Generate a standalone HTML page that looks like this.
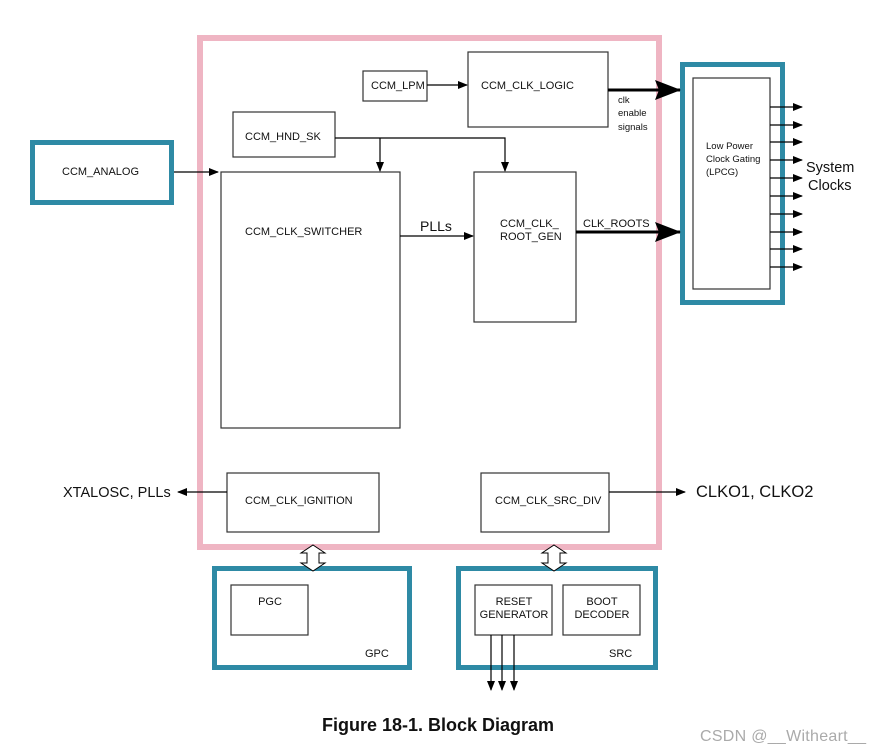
<!DOCTYPE html>
<html><head><style>body{margin:0;background:#fff}svg{display:block}text{font-family:"Liberation Sans",Arial,sans-serif;fill:#111}</style></head>
<body>
<svg width="883" height="752" viewBox="0 0 883 752" xmlns="http://www.w3.org/2000/svg">
<defs>
<marker id="a" markerWidth="10" markerHeight="8" refX="9" refY="4" orient="auto" markerUnits="userSpaceOnUse"><path d="M0,0L10,4L0,8z" fill="#000"/></marker>
<marker id="b" markerWidth="26" markerHeight="20" refX="25" refY="10" orient="auto" markerUnits="userSpaceOnUse"><path d="M0,0L26,10L0,20L4,10z" fill="#000"/></marker>
</defs>
<rect x="200" y="38" width="459" height="509" fill="none" stroke="#efb5c3" stroke-width="6"/>
<rect x="32.5" y="142.5" width="139" height="60" fill="none" stroke="#2e8aa5" stroke-width="5"/>
<text x="62" y="175" font-size="11">CCM_ANALOG</text>
<line x1="174" y1="172" x2="218" y2="172" stroke="#000" stroke-width="1.2" marker-end="url(#a)"/>
<g fill="none" stroke="#333" stroke-width="1.2">
<rect x="363" y="71" width="64" height="30"/>
<rect x="468" y="52" width="140" height="75"/>
<rect x="233" y="112" width="102" height="45"/>
<rect x="221" y="172" width="179" height="256"/>
<rect x="474" y="172" width="102" height="150"/>
<rect x="227" y="473" width="152" height="59"/>
<rect x="481" y="473" width="128" height="59"/>
<rect x="693" y="78" width="77" height="211"/>
<rect x="231" y="585" width="77" height="50"/>
<rect x="475" y="585" width="77" height="50"/>
<rect x="563" y="585" width="77" height="50"/>
</g>
<rect x="682.5" y="64.5" width="100" height="238" fill="none" stroke="#2e8aa5" stroke-width="5"/>
<rect x="214.5" y="568.5" width="195" height="99" fill="none" stroke="#2e8aa5" stroke-width="5"/>
<rect x="458.5" y="568.5" width="197" height="99" fill="none" stroke="#2e8aa5" stroke-width="5"/>
<g font-size="11">
<text x="371" y="89">CCM_LPM</text>
<text x="481" y="89">CCM_CLK_LOGIC</text>
<text x="245" y="140">CCM_HND_SK</text>
<text x="245" y="235">CCM_CLK_SWITCHER</text>
<text x="500" y="227">CCM_CLK_</text>
<text x="500" y="240">ROOT_GEN</text>
<text x="583" y="227">CLK_ROOTS</text>
<text x="245" y="504">CCM_CLK_IGNITION</text>
<text x="495" y="504">CCM_CLK_SRC_DIV</text>
<text x="270" y="605" text-anchor="middle">PGC</text>
<text x="514" y="605" text-anchor="middle">RESET</text>
<text x="514" y="618" text-anchor="middle">GENERATOR</text>
<text x="602" y="605" text-anchor="middle">BOOT</text>
<text x="602" y="618" text-anchor="middle">DECODER</text>
<text x="365" y="657">GPC</text>
<text x="609" y="657">SRC</text>
</g>
<g font-size="9.5">
<text x="618" y="103">clk</text>
<text x="618" y="116">enable</text>
<text x="618" y="130">signals</text>
<text x="706" y="149">Low Power</text>
<text x="706" y="162">Clock Gating</text>
<text x="706" y="175">(LPCG)</text>
</g>
<text x="420" y="231" font-size="14">PLLs</text>
<text x="806" y="172" font-size="14.5">System</text>
<text x="808" y="190" font-size="14.5">Clocks</text>
<text x="63" y="497" font-size="14.5">XTALOSC, PLLs</text>
<text x="696" y="497" font-size="16.5">CLKO1, CLKO2</text>
<g stroke="#000" stroke-width="1.2" fill="none">
<line x1="427" y1="85" x2="467" y2="85" marker-end="url(#a)"/>
<polyline points="335,138 505,138 505,171" marker-end="url(#a)"/>
<line x1="380" y1="138" x2="380" y2="171" marker-end="url(#a)"/>
<line x1="400" y1="236" x2="473" y2="236" marker-end="url(#a)"/>
<line x1="227" y1="492" x2="178" y2="492" marker-end="url(#a)"/>
<line x1="609" y1="492" x2="685" y2="492" marker-end="url(#a)"/>
<line x1="491" y1="635" x2="491" y2="690" marker-end="url(#a)"/>
<line x1="502" y1="635" x2="502" y2="690" marker-end="url(#a)"/>
<line x1="514" y1="635" x2="514" y2="690" marker-end="url(#a)"/>
</g>
<g stroke="#000" stroke-width="1.2">
<line x1="770" y1="107" x2="802" y2="107" marker-end="url(#a)"/>
<line x1="770" y1="125" x2="802" y2="125" marker-end="url(#a)"/>
<line x1="770" y1="142" x2="802" y2="142" marker-end="url(#a)"/>
<line x1="770" y1="160" x2="802" y2="160" marker-end="url(#a)"/>
<line x1="770" y1="178" x2="802" y2="178" marker-end="url(#a)"/>
<line x1="770" y1="196" x2="802" y2="196" marker-end="url(#a)"/>
<line x1="770" y1="214" x2="802" y2="214" marker-end="url(#a)"/>
<line x1="770" y1="232" x2="802" y2="232" marker-end="url(#a)"/>
<line x1="770" y1="249" x2="802" y2="249" marker-end="url(#a)"/>
<line x1="770" y1="267" x2="802" y2="267" marker-end="url(#a)"/>
</g>
<line x1="608" y1="90" x2="680" y2="90" stroke="#000" stroke-width="3" marker-end="url(#b)"/>
<line x1="576" y1="232" x2="680" y2="232" stroke="#000" stroke-width="3" marker-end="url(#b)"/>
<g fill="#fff" stroke="#000" stroke-width="1">
<path d="M313,545L325,553L319,553L319,563L325,563L313,571L301,563L307,563L307,553L301,553z"/>
<path d="M554,545L566,553L560,553L560,563L566,563L554,571L542,563L548,563L548,553L542,553z"/>
</g>
<text x="438" y="731" font-size="18" font-weight="bold" text-anchor="middle">Figure 18-1. Block Diagram</text>
<text x="700" y="741" font-size="16" textLength="166" style="fill:#aaa">CSDN @__Witheart__</text>
</svg>
</body></html>
